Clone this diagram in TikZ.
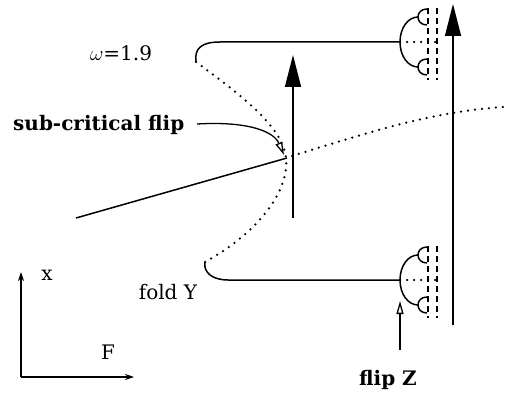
\documentclass[tikz,border=0pt]{standalone}
\usepackage{fontspec}
\setmainfont{DejaVu Serif}
\usetikzlibrary{arrows.meta}
\tikzset{
  curve/.style={line width=1.5pt},
  dotline/.style={line width=2.5pt, line cap=round, dash pattern=on 0pt off 7pt},
  dashline/.style={line width=1.4pt, dash pattern=on 6pt off 4pt},
  bigarrow/.style={line width=1.5pt, -{Triangle[length=32pt,width=16pt]}},
  openarrow/.style={line width=1.3pt, -{Triangle[open,length=13pt,width=7pt,fill=white]}},
  axisarrow/.style={line width=1.1pt, -{Stealth[length=9pt,width=6pt]}},
  lbl/.style={font=\fontsize{20}{22}\selectfont\bfseries, inner sep=0pt},
  lblr/.style={font=\fontsize{20}{22}\selectfont, inner sep=0pt}
}
\newcommand{\pdcluster}[1]{%
  \draw[curve] (418,#1-25) .. controls (408,#1-25) and (400,#1-14) .. (400,#1)
     .. controls (400,#1+14) and (408,#1+25) .. (418,#1+25);
  \draw[curve] (427,#1-33) .. controls (421,#1-33) and (418,#1-29) .. (418,#1-25)
     .. controls (418,#1-21) and (421,#1-17) .. (427,#1-17);
  \draw[curve] (427,#1+17) .. controls (421,#1+17) and (418,#1+21) .. (418,#1+25)
     .. controls (418,#1+29) and (421,#1+33) .. (427,#1+33);
  \draw[dotline] (400,#1) -- (442,#1);
  \draw[dashline] (428,#1-34) -- (428,#1+38);
  \draw[dashline] (437,#1-34) -- (437,#1+38);
}
\begin{document}
\begin{tikzpicture}[x=1pt,y=-1pt]
\useasboundingbox (0,0) rectangle (506,393);
% key points
\coordinate (ufold) at (196,62);
\coordinate (lfold) at (205,262);
\coordinate (flip) at (287,158);
\coordinate (lstart) at (76,218);
\coordinate (uend) at (400,42);
\coordinate (lend) at (400,280);
\coordinate (rdot) at (503,107);
% branches
\draw[curve] (ufold) .. controls (194,48) and (202,42) .. (220,42) -- (uend);
\draw[dotline] (ufold) .. controls (255,105) and (290,135) .. (286,168)
  .. controls (282,205) and (245,240) .. (lfold);
\draw[curve] (lfold) .. controls (203,272) and (212,280) .. (228,280) -- (lend);
\draw[curve] (lstart) -- (flip);
\draw[dotline] (292,156) .. controls (370,132) and (430,112) .. (rdot);
% period-doubling clusters
\pdcluster{42}
\pdcluster{280}
% jump arrows
\coordinate (m1) at (293,218); \coordinate (m2) at (293,55);
\draw[bigarrow] (m1) -- (m2);
\coordinate (r1) at (453,325); \coordinate (r2) at (453,4);
\draw[bigarrow] (r1) -- (r2);
% labels
\node[lbl, anchor=west] (sub) at (13,125) {sub-critical flip};
\coordinate (sa) at (197,124);
\draw[openarrow] (sa) .. controls (250,121) and (274,132) .. (284,155);
\node[lblr] (foldY) at (168,292) {fold Y};
\node[lbl] (flipZ) at (388,380) {flip Z};
\coordinate (z1) at (400,350); \coordinate (z2) at (400,301);
\draw[openarrow] (z1) -- (z2);
\node[lblr] (omega) at (121,53) {$\omega$=1.9};
% axes
\coordinate (o) at (21,377);
\coordinate (ya) at (21,272);
\coordinate (xa) at (134,377);
\draw[axisarrow] (o) -- (ya);
\draw[axisarrow] (o) -- (xa);
\node[lblr] (xl) at (47,275) {x};
\node[lblr] (Fl) at (108,352) {F};
\end{tikzpicture}
\end{document}
